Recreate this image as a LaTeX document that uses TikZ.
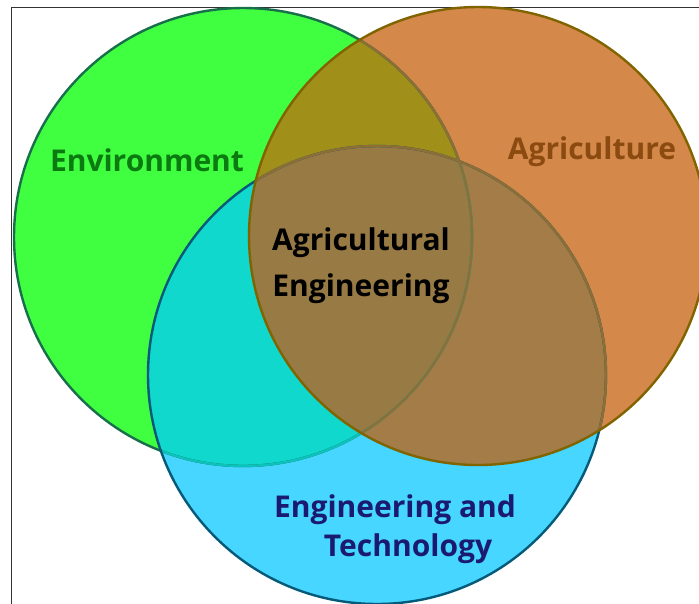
\documentclass[tikz,border=0pt]{standalone}
\usepackage{fontspec}
\setmainfont{Open Sans}
\definecolor{cG}{HTML}{40FF40}
\definecolor{cB}{HTML}{46D6FF}
\definecolor{cO}{HTML}{D4884A}
\definecolor{cGB}{HTML}{10D8CC}
\definecolor{cGO}{HTML}{A0901A}
\definecolor{cOB}{HTML}{A47C48}
\definecolor{cGOB}{HTML}{987A44}
\definecolor{bG}{HTML}{17704A}
\definecolor{bB}{HTML}{045A78}
\definecolor{bO}{HTML}{806400}
\definecolor{fainB}{HTML}{0CC2BC}
\definecolor{fainO}{HTML}{8E6E34}
\definecolor{tG}{HTML}{0B7A10}
\definecolor{tO}{HTML}{8A4A10}
\definecolor{tB}{HTML}{1A1A70}
\tikzset{
  lbl/.style={inner sep=0pt, font=\fontsize{30}{36}\selectfont\bfseries},
  rim/.style={line width=2.4pt}
}
\begin{document}
\begin{tikzpicture}[x=1pt,y=-1pt]
\useasboundingbox (0,0) rectangle (699,603);
\fill[white] (0,0) rectangle (699,603);
\def\Gc{(243,237) circle[radius=229pt]}
\def\Oc{(478,236) circle[radius=229pt]}
\def\Bc{(377,375) circle[radius=229pt]}
% frame
\draw[line width=1.8pt, black!80] (11.5,610) -- (11.5,7.5) -- (710,7.5);
% fills
\fill[cG] \Gc;
\fill[cB] \Bc;
\fill[cO] \Oc;
\begin{scope}\clip \Gc; \fill[cGB] \Bc; \fill[cGO] \Oc; \end{scope}
\begin{scope}\clip \Bc; \fill[cOB] \Oc; \end{scope}
\begin{scope}\clip \Gc; \clip \Bc; \fill[cGOB] \Oc; \end{scope}
% borders
\draw[rim, bG] \Gc;
\begin{scope}\clip \Bc; \draw[rim, fainB] \Gc; \end{scope}
\draw[rim, bB] \Bc;
\begin{scope}\clip \Oc; \draw[rim, fainO] \Gc; \draw[rim, fainO] \Bc; \end{scope}
\draw[rim, bO] \Oc;
% labels
\node[lbl, text=tG] (env) at (147,160) {Environment};
\node[lbl, text=tO] (agr) at (592,152) {Agriculture};
\node[lbl, text=black, align=center] (ae) at (361,266) {Agricultural\\[10pt]Engineering};
\node[lbl, text=tB] (et1) at (395,510) {Engineering and};
\node[lbl, text=tB] (et2) at (408,549) {Technology};
\end{tikzpicture}
\end{document}
